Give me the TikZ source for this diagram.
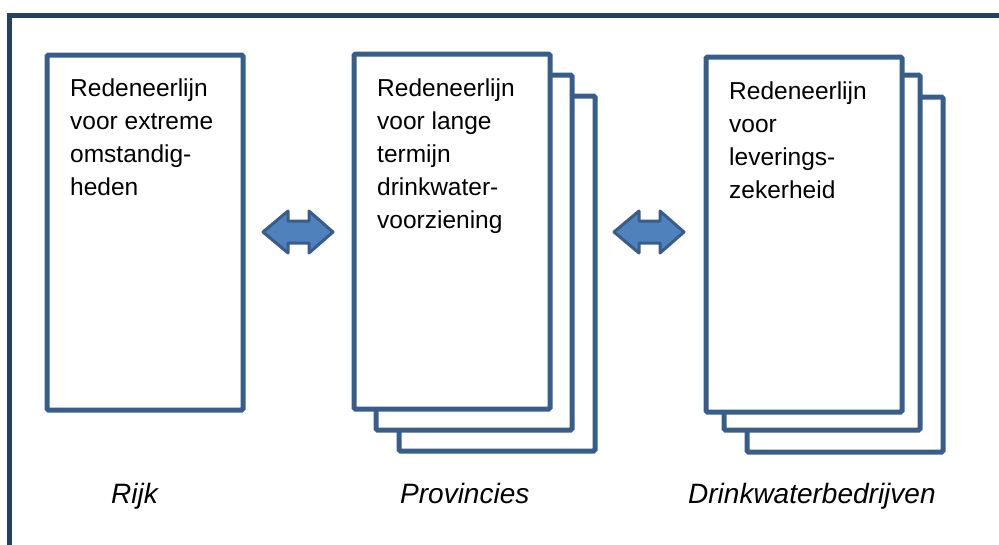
\documentclass[tikz,border=0pt]{standalone}
\usepackage{fontspec}
\setmainfont{Liberation Sans}
\definecolor{boxline}{RGB}{56,93,138}
\definecolor{framec}{RGB}{37,64,97}
\definecolor{arrowfill}{RGB}{79,129,189}
\begin{document}
\begin{tikzpicture}[x=1pt,y=-1pt,
  page/.style={draw=boxline, line width=5pt, fill=white, rounded corners=1.5pt,
    minimum width=196pt, minimum height=355pt, anchor=north west, inner sep=0pt, outer sep=0pt},
  bodytext/.style={anchor=north west, inner sep=0pt, align=left,
    font=\fontsize{24.5}{33}\selectfont, text=black},
  actor/.style={anchor=base west, inner sep=0pt,
    font=\fontsize{28}{33}\selectfont\itshape, text=black},
  dblarrow/.style={draw=boxline, fill=arrowfill, line width=3pt, line join=round}
]
\useasboundingbox (0,0) rectangle (999,544);
\clip (0,0) rectangle (999,544);
\draw[framec, line width=5pt] (9.2,15.8) rectangle (1010,560);

% Rijk
\node[page] (rijk) at (47,55) {};
\node[bodytext] (rijktext) at (70,78) {\rule{0pt}{18pt}Redeneerlijn\\voor extreme\\omstandig-\\heden};

% Provincies stack
\node[page] (prov3) at (399,96) {};
\node[page] (prov2) at (376,75) {};
\node[page] (prov1) at (354,54) {};
\node[bodytext] (provtext) at (377,78) {\rule{0pt}{18pt}Redeneerlijn\\voor lange\\termijn\\drinkwater-\\voorziening};

% Drinkwaterbedrijven stack
\node[page] (dwb3) at (747,97) {};
\node[page] (dwb2) at (724,75) {};
\node[page] (dwb1) at (706,57) {};
\node[bodytext] (dwbtext) at (729,81) {\rule{0pt}{18pt}Redeneerlijn\\voor\\leverings-\\zekerheid};

% double arrows
\draw[dblarrow] (263,232) -- (288,211) -- (288,221) -- (309,221) -- (309,211) -- (333,232)
  -- (309,253) -- (309,243) -- (288,243) -- (288,253) -- cycle;
\draw[dblarrow, shift={(351,0)}] (263,232) -- (288,211) -- (288,221) -- (309,221) -- (309,211) -- (333,232)
  -- (309,253) -- (309,243) -- (288,243) -- (288,253) -- cycle;

% labels
\node[actor] (lrijk) at (111,503) {Rijk};
\node[actor] (lprov) at (400,503) {Provincies};
\node[actor] (ldwb) at (688,503) {Drinkwaterbedrijven};
\end{tikzpicture}
\end{document}
